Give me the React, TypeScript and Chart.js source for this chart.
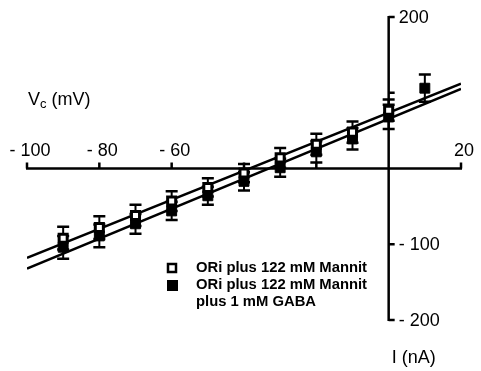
import React, { useEffect, useRef } from 'react';
import { Chart, registerables } from 'chart.js';

Chart.register(...registerables);

// ---- data ----
const voltages = [-90, -80, -70, -60, -50, -40, -30, -20, -10, 0, 10];
const openValues = [-92, -78, -62, -43, -25, -6, 14, 32, 48, 77, null];
const openErrors = [15, 15, 14, 13, 12, 12, 13, 14, 14, 14, null];
const filledValues = [-104, -89, -73, -56, -36, -17, 1, 22, 39, 68, 106];
const filledErrors = [15, 15, 13, 12, 12, 12, 12, 14, 14, 16, 18];
const fitX = [-100, 20];
const fitOpen = [-118, 112];
const fitFilled = [-132, 105];
const xTickValues = [-100, -80, -60, -40, -20, 20];
const xTickLabels = ['- 100', '- 80', '- 60', '', '', '20'];
const yTickValues = [200, 100, -100, -200];
const yTickLabels = ['200', '', '- 100', '- 200'];
const legendLines = [
  { text: 'ORi plus 122 mM Mannit', marker: 'open' },
  { text: 'ORi plus 122 mM Mannit', marker: 'filled' },
  { text: 'plus 1 mM GABA', marker: '' },
];
const xAxisTitle = { main: 'V', sub: 'c', rest: ' (mV)' };
const yAxisTitle = 'I (nA)';

const FONT = '"Liberation Sans", Arial, sans-serif';

const errorBarsPlugin = {
  id: 'errorBars',
  beforeDatasetsDraw(chart: any) {
    const { ctx, scales } = chart;
    const x = scales.x;
    const y = scales.y;
    ctx.save();
    ctx.strokeStyle = '#000';
    const drawSeries = (vals: any[], errs: any[]) => {
      vals.forEach((v, i) => {
        if (v === null || errs[i] === null) return;
        const px = x.getPixelForValue(voltages[i]);
        const top = y.getPixelForValue(v + errs[i]);
        const bot = y.getPixelForValue(v - errs[i]);
        ctx.lineWidth = 2;
        ctx.beginPath();
        ctx.moveTo(px, top);
        ctx.lineTo(px, bot);
        ctx.stroke();
        ctx.lineWidth = 2.5;
        ctx.beginPath();
        ctx.moveTo(px - 6, top);
        ctx.lineTo(px + 6, top);
        ctx.moveTo(px - 6, bot);
        ctx.lineTo(px + 6, bot);
        ctx.stroke();
      });
    };
    drawSeries(filledValues, filledErrors);
    drawSeries(openValues, openErrors);
    ctx.restore();
  },
};

const axesPlugin = {
  id: 'customAxes',
  beforeDatasetsDraw(chart: any) {
    const { ctx, scales } = chart;
    const x = scales.x;
    const y = scales.y;
    const x0 = x.getPixelForValue(0);
    const y0 = y.getPixelForValue(0);
    ctx.save();
    ctx.strokeStyle = '#000';
    ctx.fillStyle = '#000';
    ctx.lineWidth = 2.5;
    ctx.lineCap = 'butt';
    // x axis
    ctx.beginPath();
    ctx.moveTo(x.getPixelForValue(x.min) - 1, y0);
    ctx.lineTo(x.getPixelForValue(x.max) + 1, y0);
    xTickValues.forEach((v) => {
      const px = x.getPixelForValue(v);
      ctx.moveTo(px, y0);
      ctx.lineTo(px, y0 - 6);
    });
    ctx.stroke();
    // y axis
    ctx.beginPath();
    ctx.moveTo(x0, y.getPixelForValue(y.max) - 1);
    ctx.lineTo(x0, y.getPixelForValue(y.min) + 1);
    yTickValues.forEach((v) => {
      const py = y.getPixelForValue(v);
      ctx.moveTo(x0, py);
      ctx.lineTo(x0 + 6, py);
    });
    ctx.stroke();

    ctx.font = `18px ${FONT}`;
    ctx.textBaseline = 'middle';
    ctx.textAlign = 'center';
    xTickValues.forEach((v, i) => {
      if (!xTickLabels[i]) return;
      ctx.fillText(xTickLabels[i], x.getPixelForValue(v) + 3, y0 - 17);
    });
    ctx.textAlign = 'left';
    yTickValues.forEach((v, i) => {
      if (!yTickLabels[i]) return;
      ctx.fillText(yTickLabels[i], x0 + 10, y.getPixelForValue(v) + 1);
    });

    // axis titles
    ctx.textBaseline = 'alphabetic';
    ctx.font = `18px ${FONT}`;
    const tx = 28;
    const ty = 105;
    ctx.fillText(xAxisTitle.main, tx, ty);
    const wMain = ctx.measureText(xAxisTitle.main).width;
    ctx.font = `13px ${FONT}`;
    ctx.fillText(xAxisTitle.sub, tx + wMain, ty + 3);
    const wSub = ctx.measureText(xAxisTitle.sub).width;
    ctx.font = `18px ${FONT}`;
    ctx.fillText(xAxisTitle.rest, tx + wMain + wSub, ty);

    ctx.textBaseline = 'middle';
    ctx.fillText(yAxisTitle, x0 + 3, y.getPixelForValue(y.min) + 38);

    // legend
    ctx.font = `bold 14.8px ${FONT}`;
    const ly = [268, 285, 302];
    legendLines.forEach((l, i) => {
      ctx.fillText(l.text, 196, ly[i]);
      if (l.marker === 'open') {
        ctx.fillStyle = '#fff';
        ctx.fillRect(168, ly[i] - 4, 8, 8);
        ctx.fillStyle = '#000';
        ctx.lineWidth = 2.5;
        ctx.strokeRect(168, ly[i] - 4, 8, 8);
      } else if (l.marker === 'filled') {
        ctx.fillRect(167, ly[i] - 5, 11, 11);
      }
    });
    ctx.restore();
  },
};

export default function App() {
  const canvasRef = useRef<HTMLCanvasElement | null>(null);

  useEffect(() => {
    if (!canvasRef.current) return;
    const toPts = (vals: any[]) =>
      vals.map((v, i) => ({ x: voltages[i], y: v })).filter((p) => p.y !== null);
    const chart = new Chart(canvasRef.current, {
      type: 'scatter',
      data: {
        datasets: [
          {
            label: 'open',
            data: toPts(openValues),
            pointStyle: 'rect',
            pointRadius: 5.7,
            pointBackgroundColor: '#fff',
            pointBorderColor: '#000',
            pointBorderWidth: 3,
            showLine: false,
          },
          {
            label: 'filled',
            data: toPts(filledValues),
            pointStyle: 'rect',
            pointRadius: 7,
            pointBackgroundColor: '#000',
            pointBorderColor: '#000',
            pointBorderWidth: 1,
            showLine: false,
          },
          {
            label: 'fitOpen',
            data: fitX.map((v, i) => ({ x: v, y: fitOpen[i] })),
            showLine: true,
            pointRadius: 0,
            borderColor: '#000',
            borderWidth: 2.5,
          },
          {
            label: 'fitFilled',
            data: fitX.map((v, i) => ({ x: v, y: fitFilled[i] })),
            showLine: true,
            pointRadius: 0,
            borderColor: '#000',
            borderWidth: 2.5,
          },
        ],
      },
      options: {
        animation: false,
        responsive: false,
        devicePixelRatio: 1,
        layout: { padding: { left: 27, right: 20, top: 17, bottom: 51 } },
        plugins: { legend: { display: false }, tooltip: { enabled: false } },
        scales: {
          x: { type: 'linear', min: -100, max: 20, display: false },
          y: { type: 'linear', min: -200, max: 200, display: false },
        },
      },
      plugins: [axesPlugin, errorBarsPlugin],
    });
    return () => chart.destroy();
  }, []);

  return (
    <div style={{ position: 'fixed', left: 0, top: 0, width: 481, height: 371, background: '#fff' }}>
      <canvas ref={canvasRef} width={481} height={371} style={{ display: 'block' }} />
    </div>
  );
}
